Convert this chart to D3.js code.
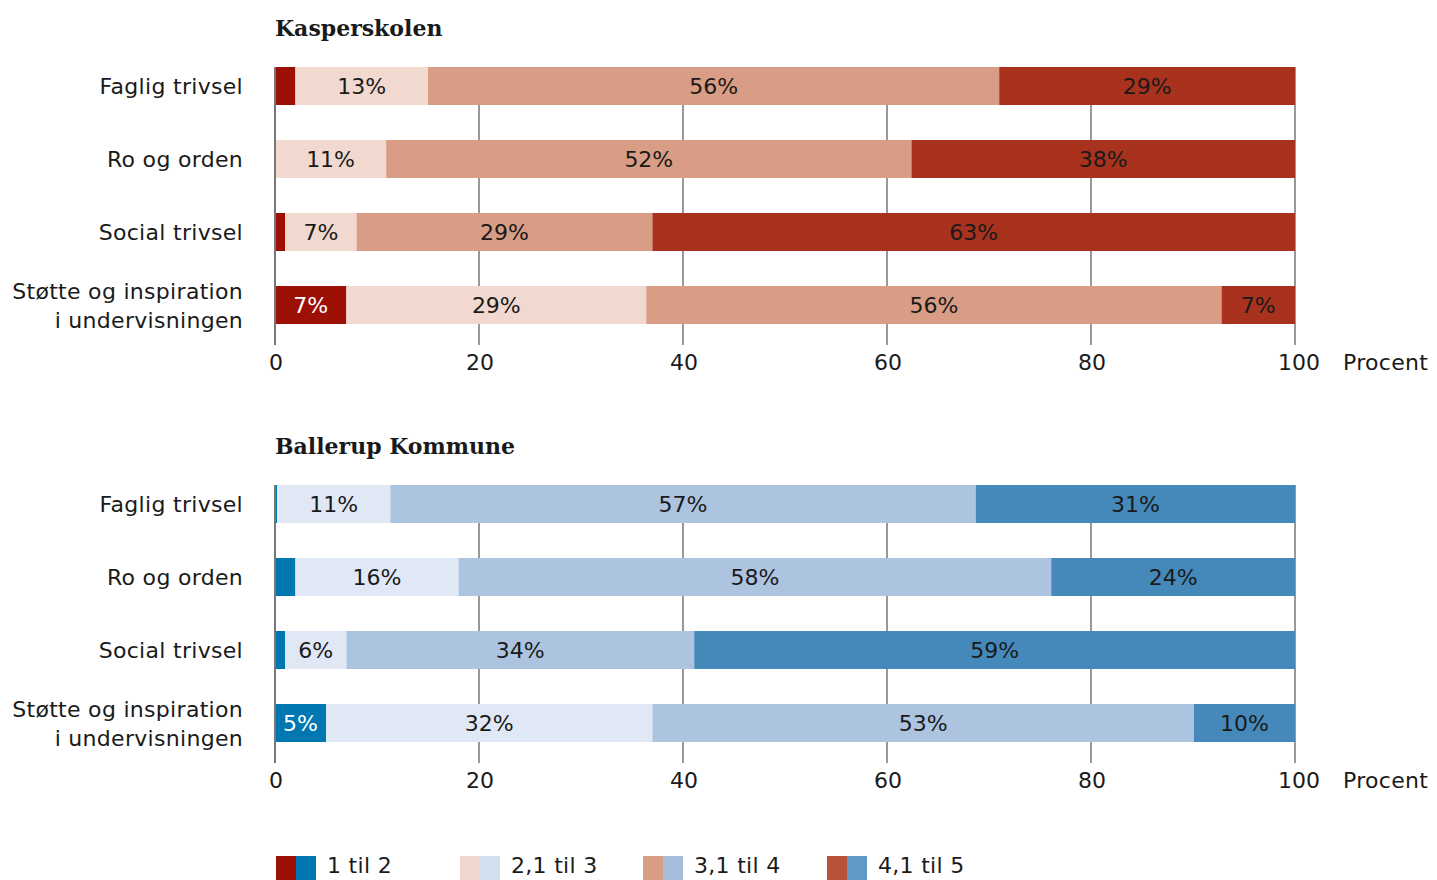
<!DOCTYPE html>
<html>
<head>
<meta charset="utf-8">
<script src="https://d3js.org/d3.v7.min.js"></script>
<style>
  body { margin: 0; background: #fff; }
  text { font-family: "DejaVu Sans", sans-serif; fill: #1a1a1a; }
  .title { font-family: "DejaVu Serif", serif; font-weight: bold; font-size: 22px; }
  .lbl { letter-spacing: 0.3px; }
</style>
</head>
<body>
<svg id="chart" width="1437" height="880"></svg>
<script>
var categories = ["Faglig trivsel", "Ro og orden", "Social trivsel", "Støtte og inspiration\ni undervisningen"];
var groups = ["1 til 2", "2,1 til 3", "3,1 til 4", "4,1 til 5"];
var ticks = [0, 20, 40, 60, 80, 100];

// shares per category, in group order
var kasperskolen = [
  [2, 13, 56, 29],
  [0, 10.9, 51.5, 37.6],
  [1, 7, 29, 63],
  [7, 29.4, 56.4, 7.2]
];
var ballerup = [
  [0.2, 11.1, 57.4, 31.3],
  [2, 16, 58.1, 23.9],
  [1, 6, 34.1, 58.9],
  [5, 32, 53.1, 9.9]
];

var redColors = ["#9c1006", "#f1d9cf", "#d99c84", "#a8321e"];
var blueColors = ["#0077b0", "#e0e8f5", "#adc4e1", "#4589bb"];
var legendRed = ["#9c1006", "#f0d7cd", "#d99c84", "#b8533a"];
var legendBlue = ["#0077b0", "#d3e0ef", "#a4bddb", "#6098c6"];

var svg = d3.select("#chart");
var x = d3.scaleLinear().domain([0, 100]).range([275, 1295]);

function panel(title, data, colors, top) {
  var y = d3.scaleBand().domain(categories)
    .range([top, top + 3 * 73 + 38]).paddingInner(35 / 73);
  var g = svg.append("g");

  g.append("text").attr("class", "title")
    .attr("x", 275).attr("y", top - 31).text(title);

  // grid lines behind bars
  g.selectAll(".grid").data(ticks.slice(1)).enter().append("line")
    .attr("x1", d => x(d)).attr("x2", d => x(d))
    .attr("y1", top).attr("y2", top + 278)
    .attr("stroke", "#333").attr("stroke-width", 1);

  categories.forEach(function(c, i) {
    var cum = 0;
    data[i].forEach(function(v, j) {
      var x0 = cum;
      cum += v;
      if (v <= 0) return;
      g.append("rect")
        .attr("x", x(x0)).attr("y", y(c))
        .attr("width", x(x0 + v) - x(x0)).attr("height", y.bandwidth())
        .attr("fill", colors[j]);
      if (v >= 4) {
        g.append("text")
          .attr("x", (x(x0) + x(x0 + v)) / 2)
          .attr("y", y(c) + y.bandwidth() / 2 + 8)
          .attr("text-anchor", "middle")
          .style("font-size", "22px")
          .style("fill", j === 0 ? "#fff" : "#1a1a1a")
          .text(Math.round(v) + "%");
      }
    });

    var lines = c.split("\n");
    var cy = y(c) + y.bandwidth() / 2;
    lines.forEach(function(l, k) {
      g.append("text").attr("class", "lbl")
        .attr("x", 243)
        .attr("y", cy + 8 + (k - (lines.length - 1) / 2) * 29)
        .attr("text-anchor", "end")
        .style("font-size", "22px")
        .text(l);
    });
  });

  // zero axis
  g.append("line")
    .attr("x1", x(0)).attr("x2", x(0))
    .attr("y1", top).attr("y2", top + 278)
    .attr("stroke", "#777").attr("stroke-width", 2);

  g.selectAll(".tick").data(ticks).enter().append("text")
    .attr("x", d => x(d) + (d === 100 ? 4 : 1))
    .attr("y", top + 303)
    .attr("text-anchor", "middle")
    .style("font-size", "22px")
    .text(d => d);

  g.append("text").attr("class", "lbl")
    .attr("x", 1343).attr("y", top + 303)
    .style("font-size", "22px")
    .text("Procent");
}

panel("Kasperskolen", kasperskolen, redColors, 67);
panel("Ballerup Kommune", ballerup, blueColors, 485);

var legendX = [276, 460, 643, 827];
var lg = svg.append("g");
groups.forEach(function(gname, i) {
  lg.append("rect").attr("x", legendX[i]).attr("y", 856)
    .attr("width", 20).attr("height", 24).attr("fill", legendRed[i]);
  lg.append("rect").attr("x", legendX[i] + 20).attr("y", 856)
    .attr("width", 20).attr("height", 24).attr("fill", legendBlue[i]);
  lg.append("text").attr("class", "lbl").attr("x", legendX[i] + 51).attr("y", 873)
    .style("font-size", "22px").text(gname);
});
</script>
</body>
</html>
